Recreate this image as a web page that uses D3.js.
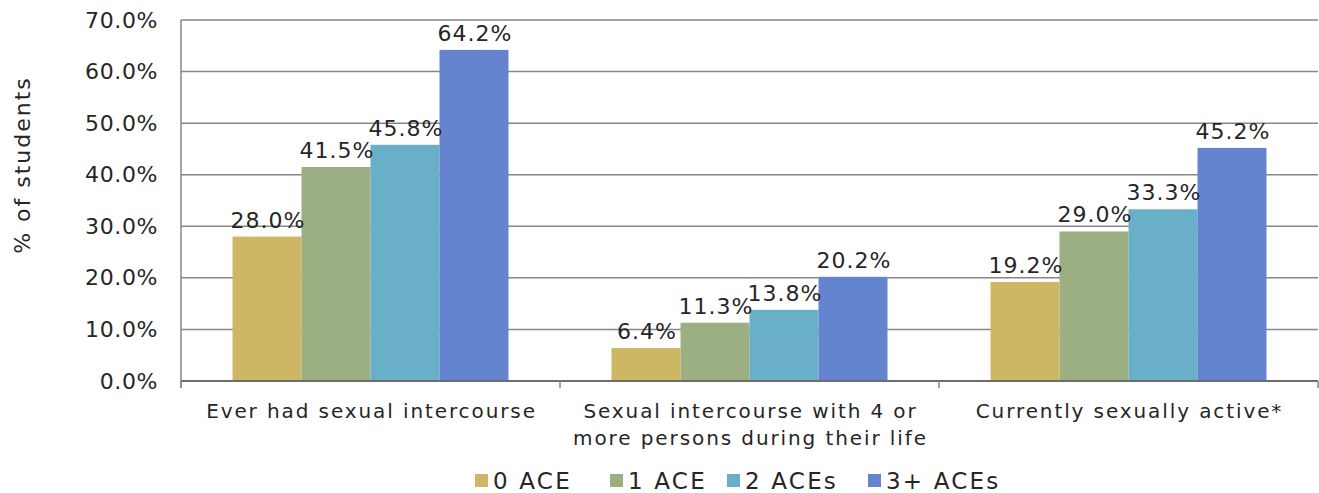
<!DOCTYPE html>
<html><head><meta charset="utf-8">
<script src="https://cdn.jsdelivr.net/npm/d3@7"></script>
<style>
body{margin:0;background:#fff;}
text{font-family:"DejaVu Sans",sans-serif;fill:#262626;}
</style></head>
<body><svg id="c" width="1319" height="493"></svg>
<script>
const categories = [["Ever had sexual intercourse"], ["Sexual intercourse with 4 or", "more persons during their life"], ["Currently sexually active*"]];
const seriesNames = ["0 ACE", "1 ACE", "2 ACEs", "3+ ACEs"];
const colors = ["#CDB764", "#9BAF82", "#6AAFC8", "#6584CF"];
const s0 = [28.0, 6.4, 19.2];
const s1 = [41.5, 11.3, 29.0];
const s2 = [45.8, 13.8, 33.3];
const s3 = [64.2, 20.2, 45.2];
const yTicks = [0, 10, 20, 30, 40, 50, 60, 70];
const series = [s0, s1, s2, s3];

const svg = d3.select("#c");
const L = 181, R = 1318, T = 20, B = 381;
const x0 = d3.scaleBand().domain(d3.range(categories.length)).range([L, R]).paddingInner(0).paddingOuter(0);
const gp = 51.5;
const x1 = d3.scaleBand().domain(d3.range(series.length)).range([gp, x0.bandwidth() - gp]).padding(0);
const y = d3.scaleLinear().domain([0, 70]).range([B, T]);

// gridlines
svg.append("g").selectAll("line").data(yTicks.filter(d=>d>0)).join("line")
  .attr("x1", L).attr("x2", R).attr("y1", d=>y(d)).attr("y2", d=>y(d))
  .attr("stroke", "#868686").attr("stroke-width", 1.5);

// y axis
const ya = svg.append("g").attr("transform", `translate(${L},0)`)
  .call(d3.axisLeft(y).tickValues(yTicks).tickFormat(d=>d.toFixed(1)+"%").tickSize(0).tickPadding(23));
ya.select(".domain").remove();
ya.selectAll("text").style("font-size","22px").attr("font-family", null).attr("fill","#262626").attr("letter-spacing","0.6px");
svg.append("line").attr("x1", L).attr("x2", L).attr("y1", T).attr("y2", B+7).attr("stroke","#868686").attr("stroke-width",1.5);

// bars
const g = svg.append("g");
series.forEach((s, i) => {
  g.selectAll(null).data(s).join("rect")
    .attr("x", (d, j) => x0(j) + x1(i)).attr("width", x1.bandwidth())
    .attr("y", d => y(d)).attr("height", d => B - y(d)).attr("fill", colors[i]);
});
series.forEach((s, i) => {
  g.selectAll(null).data(s).join("text")
    .attr("x", (d, j) => x0(j) + x1(i) + x1.bandwidth()/2 + 1).attr("y", d => y(d) - 9)
    .attr("text-anchor","middle").style("font-size","22px").attr("letter-spacing","1px")
    .text(d => d.toFixed(1) + "%");
});

// x axis
svg.append("line").attr("x1", L).attr("x2", R).attr("y1", B).attr("y2", B).attr("stroke","#6e6e6e").attr("stroke-width",2);
const xt = [0,1,2,3].map(i => i < 3 ? x0(i) : R);
svg.append("g").selectAll("line").data(xt).join("line")
  .attr("x1", d=>d).attr("x2", d=>d).attr("y1", B).attr("y2", B+7).attr("stroke","#868686").attr("stroke-width",1.5);
categories.forEach((lines, j) => {
  const t = svg.append("text").attr("text-anchor","middle").style("font-size","20px").attr("letter-spacing","1.9px");
  lines.forEach((ln, k) => t.append("tspan").attr("x", x0(j) + x0.bandwidth()/2 + 1).attr("y", 418 + k*27).text(ln));
});

// y title
svg.append("text").attr("transform","translate(30,165) rotate(-90)").attr("text-anchor","middle")
  .style("font-size","22px").attr("letter-spacing","2px").text("% of students");

// legend
const legX = [475, 610, 727, 868];
const lg = svg.append("g");
seriesNames.forEach((n, i) => {
  lg.append("rect").attr("x", legX[i]).attr("y", 474).attr("width", 13).attr("height", 13).attr("fill", colors[i]);
  lg.append("text").attr("x", legX[i] + 18).attr("y", 489).style("font-size","23px").attr("letter-spacing","2.2px").text(n);
});
</script></body></html>
